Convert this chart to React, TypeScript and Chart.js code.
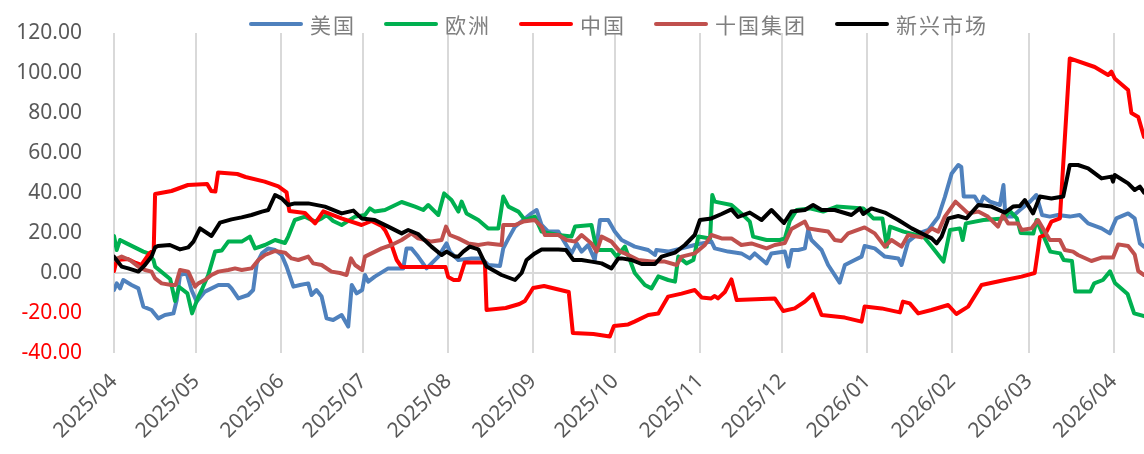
import React, { useEffect, useRef } from 'react';
import { Chart, registerables } from 'chart.js';

Chart.register(...registerables);

// Time axis: days counted from 2025-04-01
const START = Date.UTC(2025, 3, 1);
const monthLabels = [
  '2025/04', '2025/05', '2025/06', '2025/07', '2025/08', '2025/09', '2025/10',
  '2025/11', '2025/12', '2026/01', '2026/02', '2026/03', '2026/04',
];
const monthDays = monthLabels.map((l) => {
  const [y, m] = l.split('/').map(Number);
  return (Date.UTC(y, m - 1, 1) - START) / 86400000;
});
const lastDay = 376;
const yTicks = [-40, -20, 0, 20, 40, 60, 80, 100, 120];

const seriesNames = ['美国', '欧洲', '中国', '十国集团', '新兴市场'];
const seriesColors = ['#4F81BD', '#00B050', '#FF0000', '#C0504D', '#000000'];

// [day since 2025-04-01, value]
const usPoints: [number, number][] = [
  [0, -8.5], [1, -5.2], [2.2, -7.7], [3.4, -3.5], [6.4, -6], [8.9, -7.7], [10.7, -16.8], [13.7, -18.5],
  [16.2, -22.7], [18.6, -21], [21.7, -20.2], [22.9, -13.5], [24.1, -1], [26.5, 0], [28.3, -8.5], [30.2, -14.3],
  [33.2, -9.3], [38.1, -6], [41.7, -6], [42.9, -7.7], [45.4, -12.7], [49, -11], [50.8, -8.5], [52.1, 4.8],
  [54, 9.8], [56.3, 12.3], [58.8, 11.5], [61.2, 9], [63, 3.2], [65.5, -6.8], [67.9, -6], [70.9, -5.2],
  [72.1, -11], [73.9, -8.5], [75.8, -11.8], [77.6, -22.7], [80, -23.5], [83.1, -21], [85.5, -26.8], [86.8, -6],
  [88.6, -10.2], [90.6, -8.5], [91.6, -1], [92.8, -4.3], [95.2, -1.8], [100.1, 2.3], [105.6, 2.3], [106.8, 12.3],
  [108.6, 12.3], [111, 8.2], [114.1, 2.3], [118.4, 8.2], [121.4, 14.8], [122.6, 10.7], [125.7, 6.5], [130.5, 7.3],
  [134.2, 7.3], [136.6, 4], [140.9, 3.5], [142.1, 12.3], [144, 17.3], [146.4, 23.2], [149.4, 26.5], [152.4, 29.8],
  [154.3, 31.5], [156.1, 24], [158.5, 20.7], [162.2, 20.7], [164, 16.5], [167, 9.8], [168.9, 14.8], [170.7, 10.7],
  [173.1, 14], [175.5, 6.5], [177.4, 26.5], [180.4, 26.5], [182.8, 20.7], [185.3, 16.5], [190.1, 13.2], [195, 11.5],
  [197.5, 9], [198, 11.5], [202.3, 10.7], [207.2, 12.3], [212, 14], [214.5, 14.8], [218.1, 15.7], [219.3, 12.3],
  [224.2, 10.7], [229, 9.8], [232.1, 7.3], [233.9, 9.8], [238.2, 4.8], [240, 9.8], [244.9, 10.7], [246.2, 3.2],
  [247.4, 11.5], [249.8, 11.5], [252.2, 12.3], [253.4, 21.5], [254.6, 16.5], [258.3, 11.5], [260.7, 4], [264.9, -4.8],
  [266.8, 4], [270.4, 6.5], [272.9, 8.2], [274, 13.5], [277.7, 12.3], [281.4, 8.2], [286.3, 7.3], [287.5, 4],
  [289.9, 15.7], [293.6, 19.8], [297.3, 21.5], [300.9, 28], [303.3, 38], [305.8, 49.8], [308.2, 54], [309.3, 53],
  [310.2, 38.2], [314.2, 38.2], [316.1, 34], [317.4, 38.2], [319.8, 35.7], [323.4, 34], [324.7, 44], [325.4, 28.2],
  [328, 28.2], [330.7, 31.5], [334.4, 35.7], [336.7, 39], [338.8, 29], [341.6, 28.2], [344.6, 29], [348.9, 28.2],
  [352.5, 29], [355.6, 24.8], [360.5, 22.3], [363.5, 19.8], [365.9, 27.3], [370.2, 29.8], [372.6, 27.3], [374.5, 14.8],
  [376, 13.2],
];

const euPoints: [number, number][] = [
  [0, 18.5], [1, 11.5], [2.2, 16.5], [4.6, 14.8], [10.7, 10.7], [12.5, 9.8], [14.4, 6.5], [15, 3.2],
  [20.5, -3], [22.3, -14], [23.8, -7], [26.8, -10.2], [28.5, -20.2], [30.8, -11.8], [32, -8.5], [34.4, -1],
  [36.9, 10.7], [39.3, 11.2], [41.7, 15.7], [46.6, 15.7], [49.6, 18.2], [51.5, 12.3], [55.1, 14], [58.8, 16.5],
  [62.4, 15], [63.6, 18.2], [66, 26.5], [69.7, 28.2], [73.4, 25.7], [75.8, 27.3], [77.6, 29], [80, 26],
  [83.1, 24], [88, 28.2], [91.6, 29], [93.4, 32.3], [95.2, 30.7], [98.9, 31.5], [105, 35.5], [109.9, 33.2],
  [112.9, 31.5], [114.7, 34], [118.4, 29], [120.5, 39.8], [123.2, 36.5], [125.7, 30.7], [126.9, 35.7], [128.7, 29.8],
  [133, 26.5], [136.6, 22.3], [140.3, 22.3], [142.1, 38.2], [144, 33.2], [147.6, 30.7], [150, 26.5], [153.6, 28.2],
  [156.1, 20.7], [162.2, 19], [167, 18.2], [168.3, 23.2], [174.3, 24], [176.2, 11.5], [181.6, 11.5], [183.5, 8.2],
  [186.5, 13.2], [190.1, 0], [193.8, -6], [196.2, -7.7], [198.7, -1.7], [202.3, -3.5], [204.8, -4.3], [206, 8.2],
  [209, 4.8], [211.5, 6.5], [213.3, 18.2], [217.6, 17.3], [218.4, 39], [219.3, 35.7], [225.4, 34], [229, 29.8],
  [232.1, 25.7], [233.3, 18.2], [238.2, 16.5], [243.1, 16.5], [244.9, 17.3], [246.7, 26], [249.2, 31.5], [254, 32.3],
  [258.9, 30.7], [263.8, 33.2], [273.5, 32.3], [277.2, 27.3], [280.5, 27.3], [282.1, 13.2], [283.3, 23.2], [288.2, 20.7],
  [295.5, 18.2], [298.5, 13.2], [302.8, 5.7], [305.2, 21.5], [308.8, 22.3], [309.8, 16.5], [311, 24.8], [317.4, 26.5],
  [324.7, 27.3], [327, 31], [329.6, 27.3], [331, 20], [335.6, 19.8], [336.8, 26.5], [338.1, 22.3], [341.8, 10.7],
  [345.4, 9.8], [346.7, 6.5], [349.7, 6], [350.9, -9.3], [356.4, -9.3], [357.8, -5.2], [361, -3.5], [363.6, 0.8],
  [365.4, -5], [370, -10.5], [372.4, -20.2], [376, -21.6],
];

const cnPoints: [number, number][] = [
  [0, 1], [1, 6.5], [5, 7], [8, 5], [10, 4], [13, 10], [14.5, 11.5], [15, 39.5],
  [21, 41], [27, 44], [34, 44.5], [35.5, 41], [37, 40.7], [38, 50.3], [45, 49.5], [48, 48],
  [55, 45.7], [60, 43.3], [63, 40.3], [64, 31], [69.7, 30], [73.4, 24.8], [76.4, 30.8], [83, 27.3],
  [90.4, 24], [94, 26], [97.7, 23.5], [99, 21.3], [100.7, 16.5], [103.2, 6.5], [105, 3], [121, 3],
  [122, -2], [124, -3.5], [126, -3.5], [128, 5.2], [135.4, 5.2], [136, -18.5], [143, -17.5], [148, -15.5],
  [150, -14], [153, -7.5], [157, -6.5], [163, -8.5], [166, -9.5], [167.5, -30], [175, -30.5], [181, -31.7],
  [182.5, -26.5], [187.7, -25.7], [190, -24.3], [195, -21], [198.7, -20.3], [202.3, -11.8], [207.2, -10.3], [212, -8.5],
  [214.5, -12.2], [218, -12.7], [219.3, -11.5], [220.5, -12.7], [223, -9.5], [225.4, -3.2], [227.3, -13.5], [241.2, -12.7],
  [244.3, -19], [248.5, -17.7], [252.2, -14.3], [255.2, -10.5], [258.3, -21], [266.8, -22.3], [272.9, -24.3], [274, -16.8],
  [280.2, -17.7], [286.9, -19.7], [288, -14.3], [290.5, -15.2], [293.6, -20.2], [298.4, -18.5], [304.5, -16], [307.5, -20.5],
  [311.8, -16.8], [316.7, -6], [325.2, -3.5], [331.3, -1.8], [336.1, 0], [338, 18], [339.8, 19], [342.2, 25.7],
  [345.3, 27.3], [348.9, 107.3], [358, 103], [362.9, 99], [364.1, 100.7], [365.3, 97.3], [370.2, 91.5], [371.4, 80],
  [373.9, 78], [376, 68],
];

const g10Points: [number, number][] = [
  [0, 6.5], [2.8, 8.2], [5.8, 6.5], [8.9, 3.2], [11.3, 1.5], [13.7, 0.7], [15, -2.7], [17.4, -5.2],
  [21, -6], [22.5, -6], [24.1, 1.5], [27.1, 0.7], [29.6, -6.8], [30.8, -5.2], [33.2, -3.5], [35.6, -1],
  [38.1, 0.7], [41.7, 1.5], [44.2, 2.3], [46.6, 1.5], [50.2, 2.3], [52.7, 6.5], [55.1, 9], [58.8, 11],
  [62.4, 10.2], [64.8, 7.3], [67.3, 6.5], [70.9, 8.2], [72.7, 4.8], [75.8, 4], [79.4, 0.7], [82.5, 0],
  [84.9, -1], [86.5, 7.3], [88, 4], [90.6, 1.5], [91.6, 8.2], [94, 9.8], [97.7, 12.3], [101.3, 14],
  [105, 16.5], [108.6, 19.8], [111, 17.3], [115.9, 15.7], [119.6, 16.5], [121.2, 23.2], [122.6, 19], [125.7, 17.3],
  [129.3, 14.8], [133, 14], [136.6, 14.8], [141.5, 14], [142.1, 24], [146.4, 24], [149.4, 25.7], [153.6, 26.5],
  [156.1, 23.2], [157.3, 19], [162.2, 19], [165.2, 16.5], [168.3, 15.7], [170.7, 19], [174.3, 14.8], [176.2, 10.7],
  [178, 18.2], [181.6, 15.7], [184.7, 10.7], [186.5, 9.8], [191.4, 6.5], [196.2, 5.7], [201.1, 5.7], [205.4, 4],
  [207.2, 8.2], [212, 9.8], [215.7, 14], [218.1, 19], [221.8, 17.3], [225.4, 17.3], [229, 14], [232.7, 14.8],
  [238.2, 12.3], [241.2, 14], [244.9, 15], [247.3, 22], [252.2, 25.7], [253.4, 22.3], [257, 21.5], [260.7, 20.7],
  [263.1, 16.5], [265.5, 16], [268, 19.8], [274, 22.8], [277.7, 19.8], [281.4, 13.2], [283.8, 16.5], [287.5, 13.2],
  [289.9, 19], [294.8, 17.8], [298.5, 22.3], [300.9, 20.7], [303.3, 28.2], [307.2, 35.7], [311.8, 29.8], [315.5, 30.7],
  [319, 28.2], [322.7, 23.2], [324.5, 29], [326.4, 24.8], [330, 24.8], [331.3, 21.5], [334.9, 22.3], [337.3, 26.5],
  [341.6, 16.5], [345.3, 16.5], [347.1, 11.5], [350.1, 10.7], [351.9, 9], [356.8, 6], [360.5, 7.7], [364.7, 7.7],
  [366.6, 14.3], [370.2, 13.5], [372.6, 9.3], [373.9, 1], [376, -1],
];

const emPoints: [number, number][] = [
  [0, 8.2], [2.8, 3.2], [5.2, 2.3], [8.9, 0.7], [11.3, 4], [13.7, 8.2], [15, 12.8], [16, 13.5],
  [20.4, 14], [24.1, 11.8], [27.1, 12.8], [29, 15.7], [31.4, 22.3], [35.6, 18.5], [38.7, 25.2], [42.9, 26.8],
  [46.6, 27.8], [50.2, 29], [54, 30.7], [56.3, 31.5], [58.8, 39], [61.2, 37.3], [63.6, 34], [66, 34.8],
  [70.9, 34.8], [77, 33.2], [83.1, 29.8], [87.4, 31.2], [90.4, 27.3], [95.2, 26.5], [100.1, 23.2], [105, 19.8],
  [107.4, 21.5], [111, 19.5], [115.9, 13.2], [119.6, 9], [121.4, 10.7], [124.4, 8.2], [125.7, 8.2], [127.5, 10.7],
  [129.9, 13.2], [133, 11.8], [136, 3.2], [141.5, -1], [146.4, -3.5], [148.8, 0], [150.6, 6.5], [153.6, 9.8],
  [156.1, 11.8], [162.2, 11.8], [165, 11.5], [167.7, 6.5], [170.7, 6.5], [174.3, 5.7], [178, 4.8], [181.6, 2.3],
  [184.1, 7.3], [185.3, 7.3], [188.9, 6.5], [192.6, 4.5], [197.5, 4.5], [199.9, 8.2], [204.8, 10.2], [208.4, 14],
  [212, 19], [213.9, 26.5], [218.1, 27.3], [221.8, 29.5], [225.4, 31.8], [227.8, 28], [232.1, 30.2], [236.4, 26.5],
  [240, 31.5], [244.6, 25], [247.3, 30.7], [252.2, 31.5], [255.2, 34], [258.3, 31.5], [263.1, 31.5], [269.2, 29],
  [272.3, 32.3], [273.5, 29.5], [276.5, 32.3], [281.4, 30.2], [286.3, 26.5], [291.2, 22.3], [296, 19], [298.5, 17.3],
  [300.3, 14.8], [302.1, 18.2], [304.6, 27.3], [308.2, 28.5], [311.2, 27.3], [315.5, 34], [320.3, 33.2], [325.2, 30.2],
  [328.2, 33.2], [330.7, 33.5], [332.5, 36.5], [335.5, 29.8], [338, 38.2], [342.2, 37.3], [346.5, 38.2], [348.9, 54],
  [351.9, 54], [355.6, 52.3], [360.5, 47.3], [364.1, 48.2], [364.7, 45.7], [365.3, 49], [370.2, 44.8], [372.6, 41.5],
  [374.5, 43.2], [376, 40.2],
];

const seriesPoints = [usPoints, euPoints, cnPoints, g10Points, emPoints];

const LABEL_FONT = { family: '"Noto Sans", "DejaVu Sans", sans-serif', size: 21 };

const legendPlugin = {
  id: 'excelLegend',
  afterDraw(chart: any) {
    const ctx = chart.ctx as CanvasRenderingContext2D;
    ctx.save();
    ctx.font = '21px "Noto Sans CJK SC", sans-serif';
    (ctx as any).letterSpacing = '2px';
    ctx.textBaseline = 'middle';
    ctx.textAlign = 'left';
    const y = 24;
    let x = 249;
    seriesNames.forEach((name, i) => {
      ctx.strokeStyle = seriesColors[i];
      ctx.lineWidth = 4;
      ctx.lineCap = 'round';
      ctx.beginPath();
      ctx.moveTo(x + 2, y);
      ctx.lineTo(x + 52, y);
      ctx.stroke();
      x += 61;
      ctx.fillStyle = '#7f7f7f';
      ctx.fillText(name, x, y + 1);
      x += ctx.measureText(name).width + 28;
    });
    ctx.restore();
  },
};

export default function App() {
  const canvasRef = useRef<HTMLCanvasElement | null>(null);

  useEffect(() => {
    if (!canvasRef.current) return;
    const chart = new Chart(canvasRef.current, {
      type: 'line',
      data: {
        datasets: seriesNames.map((name, i) => ({
          label: name,
          data: seriesPoints[i].map(([x, y]) => ({ x, y })),
          borderColor: seriesColors[i],
          backgroundColor: seriesColors[i],
          borderWidth: 4,
          pointRadius: 0,
          tension: 0,
          fill: false,
          borderJoinStyle: 'round' as const,
          borderCapStyle: 'round' as const,
          order: seriesNames.length - 1 - i,
        })),
      },
      options: {
        responsive: false,
        animation: false,
        devicePixelRatio: 1,
        events: [],
        layout: { padding: { top: 33, left: 0, right: 0, bottom: 0 } },
        plugins: {
          legend: { display: false },
          tooltip: { enabled: false },
        },
        scales: {
          x: {
            type: 'linear',
            min: 0,
            max: lastDay,
            afterBuildTicks: (s: any) => {
              s.ticks = monthDays.map((v) => ({ value: v }));
            },
            afterFit: (s: any) => {
              s.height = 101;
              s.paddingRight = 0;
              s.paddingLeft = 0;
            },
            ticks: {
              autoSkip: false,
              minRotation: 45,
              maxRotation: 45,
              padding: 16,
              color: '#595959',
              font: LABEL_FONT,
              callback: (v: any) => {
                const idx = monthDays.indexOf(Number(v));
                return idx >= 0 ? monthLabels[idx] : '';
              },
            },
            grid: { color: '#d9d9d9', lineWidth: 2, drawTicks: false },
            border: { display: false },
          },
          y: {
            min: -40,
            max: 120,
            afterBuildTicks: (s: any) => {
              s.ticks = yTicks.map((v) => ({ value: v }));
            },
            afterFit: (s: any) => {
              s.width = 114;
              s.paddingTop = 0;
              s.paddingBottom = 0;
            },
            ticks: {
              padding: 0,
              font: LABEL_FONT,
              color: (c: any) => (c.tick && c.tick.value < 0 ? '#FF0000' : '#595959'),
              callback: (v: any) => Number(v).toFixed(2),
            },
            grid: {
              color: (c: any) => (c.tick && c.tick.value === 0 ? '#d9d9d9' : 'rgba(0,0,0,0)'),
              lineWidth: 2,
              drawTicks: true,
              tickLength: 32,
              tickColor: 'rgba(0,0,0,0)',
            },
            border: { display: false },
          },
        },
      },
      plugins: [legendPlugin],
    } as any);
    return () => chart.destroy();
  }, []);

  return (
    <div style={{ position: 'absolute', left: 0, top: 0, width: 1144, height: 454, background: '#ffffff', overflow: 'hidden' }}>
      <canvas ref={canvasRef} width={1144} height={454} style={{ display: 'block' }} />
    </div>
  );
}
